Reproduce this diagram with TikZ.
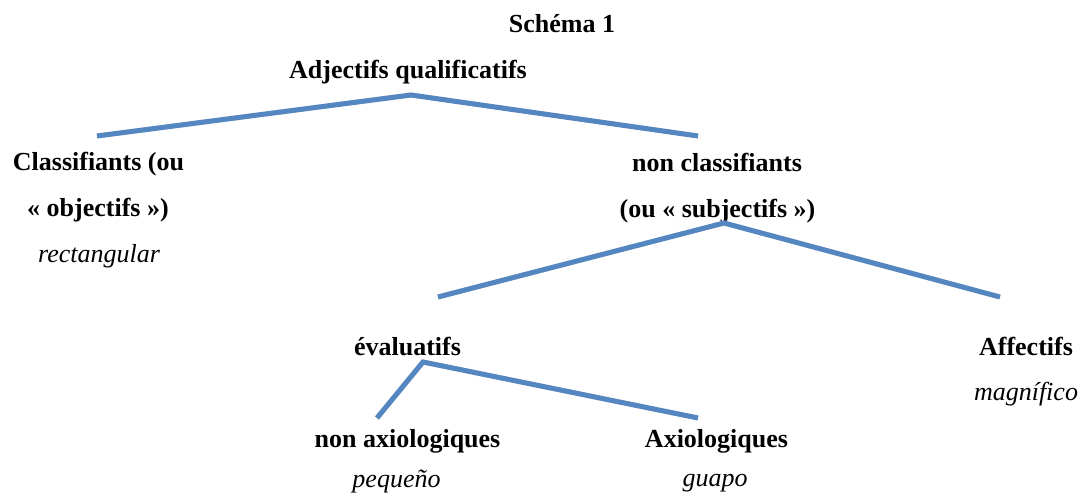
\documentclass[tikz,border=0pt]{standalone}
\usepackage{fontspec}
\setmainfont{Liberation Serif}
\definecolor{branch}{RGB}{84,135,194}
\begin{document}
\begin{tikzpicture}[x=1pt,y=-1pt,
  lbl/.style={inner sep=0pt,anchor=base,font=\fontsize{26}{30}\selectfont\bfseries},
  ex/.style={inner sep=0pt,anchor=base,font=\fontsize{26}{30}\selectfont\itshape},
  branchline/.style={draw=branch,line width=5pt},
  shade/.style={draw=black!15,line width=5pt}]
\useasboundingbox (0,0) rectangle (1082,497);
% texts (placed at baseline)
\node[lbl] (title) at (562,33) {Schéma 1};
\node[lbl] (root) at (408,79) {Adjectifs qualificatifs};
\node[lbl] (cl1) at (98.5,171) {Classifiants (ou};
\node[lbl] (cl2) at (98,217) {« objectifs »)};
\node[ex] (clex) at (99,263) {rectangular};
\node[lbl] (nc1) at (717,172) {non classifiants};
\node[lbl] (nc2) at (717.5,218) {(ou « subjectifs »)};
\node[lbl] (ev) at (407.5,355) {évaluatifs};
\node[lbl] (af) at (1026,355) {Affectifs};
\node[ex] (afex) at (1026,400) {magnífico};
\node[lbl] (nax) at (407.5,447) {non axiologiques};
\node[ex] (naxex) at (396.5,487) {pequeño};
\node[lbl] (ax) at (716.5,447) {Axiologiques};
\node[ex] (axex) at (715,486) {guapo};
% branch points
\coordinate (a1) at (411,95);
\coordinate (a1l) at (97,136);
\coordinate (a1r) at (698,136);
\coordinate (a2) at (724,223);
\coordinate (a2l) at (438,297);
\coordinate (a2r) at (1000,297);
\coordinate (a3) at (423,362);
\coordinate (a3l) at (377,418);
\coordinate (a3r) at (698,418);
% soft shadows
\begin{scope}[shift={(1.5,2)}]
\draw[shade] (a1l) -- (a1) -- (a1r);
\draw[shade] (a2l) -- (a2) -- (a2r);
\draw[shade] (a3l) -- (a3) -- (a3r);
\end{scope}
% branches
\draw[branchline] (a1l) -- (a1) -- (a1r);
\draw[branchline] (a2l) -- (a2) -- (a2r);
\draw[branchline] (a3l) -- (a3) -- (a3r);
\end{tikzpicture}
\end{document}
